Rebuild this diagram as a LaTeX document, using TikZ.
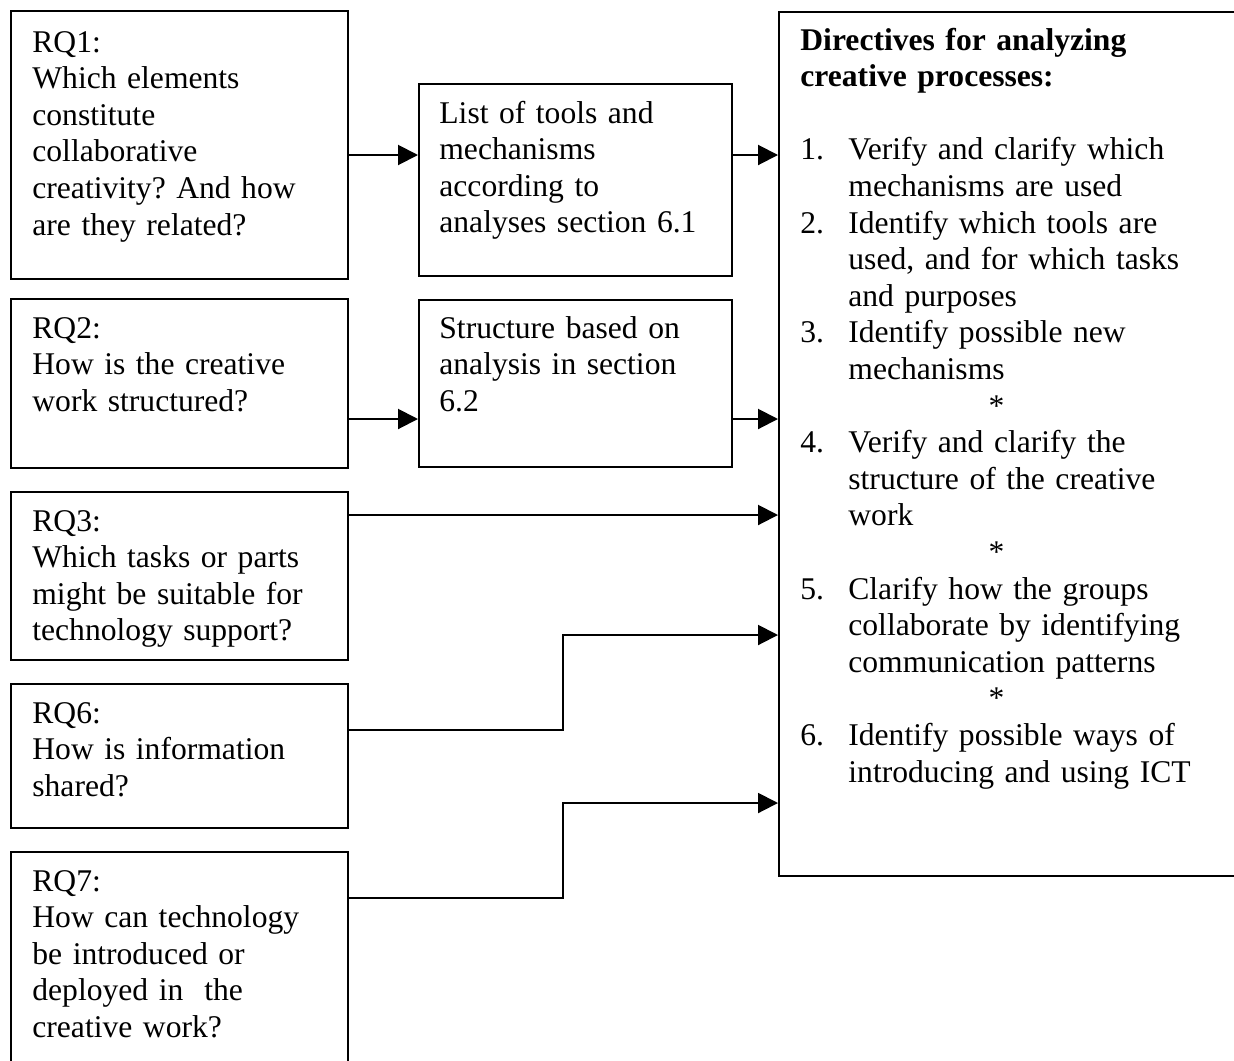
\documentclass[tikz,border=0pt]{standalone}
\usepackage{fontspec}
\setmainfont{Liberation Serif}
\usepackage{tikz}
\usetikzlibrary{positioning,arrows.meta,calc}

\newcommand{\dirnum}[1]{\makebox[24pt][l]{#1.}}
\newcommand{\dirgap}{\hspace*{24pt}}
\newcommand{\dirstar}{\makebox[196pt]{*}}

\begin{document}
\frenchspacing
\begin{tikzpicture}[
    x=0.5pt, y=-0.5pt,
    qbox/.style={
        draw=black, line width=1pt,
        anchor=north west,
        inner sep=0pt
    },
    qtext/.style={
        anchor=base west,
        align=left,
        inner sep=0pt,
        font=\fontsize{15.8}{18.3}\selectfont\frenchspacing,
        text=black
    },
    arr/.style={
        -{Triangle[length=10pt, width=10pt]},
        line width=1pt
    }
]
\useasboundingbox (0,0) rectangle (1234,1060);

% left column: research questions
\node[qbox, minimum width=168.5pt, minimum height=134pt] (rq1) at (10,10) {};
\node[qbox, minimum width=168.5pt, minimum height=84.5pt] (rq2) at (10,298) {};
\node[qbox, minimum width=168.5pt, minimum height=84pt] (rq3) at (10,491) {};
\node[qbox, minimum width=168.5pt, minimum height=72pt] (rq6) at (10,683) {};
\node[qbox, minimum width=168.5pt, minimum height=110pt] (rq7) at (10,851) {};

\node[qtext, text width=150pt] (rq1txt) at ([shift={(11pt,-21pt)}]rq1.north west)
    {RQ1:\\Which elements\\constitute\\collaborative\\creativity? And how\\are they related?};
\node[qtext, text width=150pt] (rq2txt) at ([shift={(11pt,-20pt)}]rq2.north west)
    {RQ2:\\How is the creative\\work structured?};
\node[qtext, text width=150pt] (rq3txt) at ([shift={(11pt,-20pt)}]rq3.north west)
    {RQ3:\\Which tasks or parts\\might be suitable for\\technology support?};
\node[qtext, text width=150pt] (rq6txt) at ([shift={(11pt,-20pt)}]rq6.north west)
    {RQ6:\\How is information\\shared?};
\node[qtext, text width=150pt] (rq7txt) at ([shift={(11pt,-20pt)}]rq7.north west)
    {RQ7:\\How can technology\\be introduced or\\deployed in~ the\\creative work?};

% middle column
\node[qbox, minimum width=156.5pt, minimum height=96pt] (tools) at (418,83) {};
\node[qbox, minimum width=156.5pt, minimum height=83.5pt] (struct) at (418,299) {};

\node[qtext, text width=140pt] (toolstxt) at ([shift={(10.5pt,-20pt)}]tools.north west)
    {List of tools and\\mechanisms\\according to\\analyses section 6.1};
\node[qtext, text width=140pt] (structtxt) at ([shift={(10.5pt,-19.5pt)}]struct.north west)
    {Structure based on\\analysis in section\\6.2};

% right column: directives
\node[qbox, minimum width=240pt, minimum height=432pt] (dir) at (778,11) {};
\node[qtext, text width=220pt] (dirtxt) at ([shift={(11pt,-19.5pt)}]dir.north west)
    {\textbf{Directives for analyzing}\\
     \textbf{creative processes:}\\[18.3pt]
     \dirnum{1}Verify and clarify which\\
     \dirgap mechanisms are used\\
     \dirnum{2}Identify which tools are\\
     \dirgap used, and for which tasks\\
     \dirgap and purposes\\
     \dirnum{3}Identify possible new\\
     \dirgap mechanisms\\
     \dirstar\\
     \dirnum{4}Verify and clarify the\\
     \dirgap structure of the creative\\
     \dirgap work\\
     \dirstar\\
     \dirnum{5}Clarify how the groups\\
     \dirgap collaborate by identifying\\
     \dirgap communication patterns\\
     \dirstar\\
     \dirnum{6}Identify possible ways of\\
     \dirgap introducing and using ICT};

% connector heights
\coordinate (y1) at (0,155);
\coordinate (y2) at (0,419);
\coordinate (y3) at (0,515);
\coordinate (y6) at (0,730);
\coordinate (j6) at (563,635);
\coordinate (y7) at (0,898);
\coordinate (j7) at (563,803);

\draw[arr] (rq1.east |- y1) -- (tools.west |- y1);
\draw[arr] (tools.east |- y1) -- (dir.west |- y1);
\draw[arr] (rq2.east |- y2) -- (struct.west |- y2);
\draw[arr] (struct.east |- y2) -- (dir.west |- y2);
\draw[arr] (rq3.east |- y3) -- (dir.west |- y3);
\draw[arr] (rq6.east |- y6) -| (j6) -- (dir.west |- j6);
\draw[arr] (rq7.east |- y7) -| (j7) -- (dir.west |- j7);

\end{tikzpicture}
\end{document}
